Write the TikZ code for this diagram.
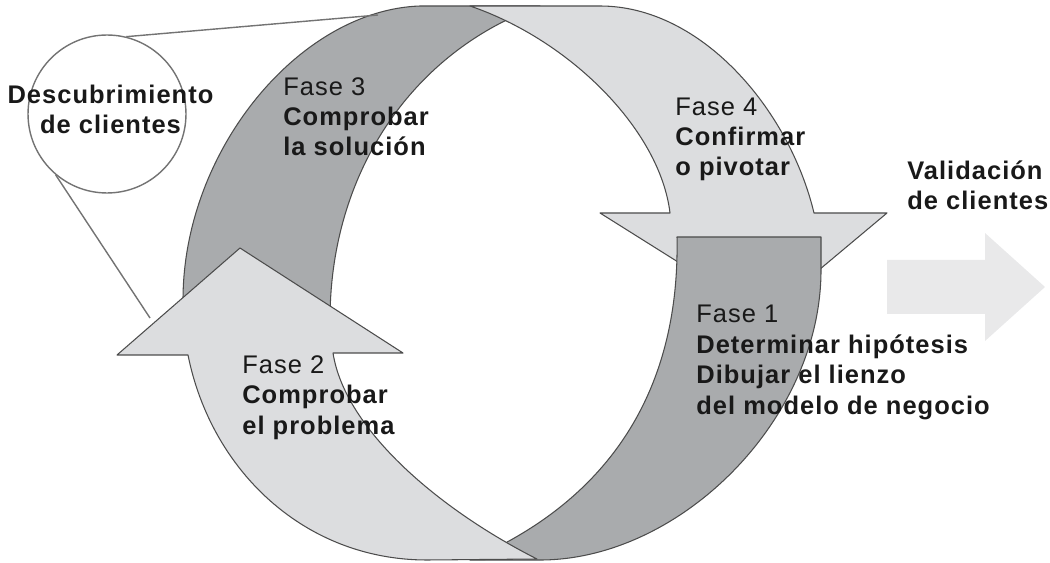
\documentclass[tikz,border=0pt]{standalone}
\usepackage{fontspec}
\setmainfont{Liberation Sans}[LetterSpace=4]
\definecolor{bandlight}{HTML}{DCDDDF}
\definecolor{banddark}{HTML}{A9ABAD}
\definecolor{validarrow}{HTML}{E9E9EA}
\begin{document}
\begin{tikzpicture}[x=0.02cm,y=-0.02cm,
        ring/.style={draw=black!70,line width=.6pt,line join=round},
        lightband/.style={ring,fill=bandlight},
        darkband/.style={ring,fill=banddark},
        txt/.style={anchor=base west,align=left,inner sep=0pt,font=\fontsize{14.5}{17.3}\selectfont,text=black!90},
        lens/.style={circle,draw=black!55,line width=.8pt,minimum size=3.16cm,inner sep=0pt}]
        \useasboundingbox (0,0) rectangle (1050,563);
        % Fase 3
        \draw[darkband] (183,335) -- (183,300) .. controls (183,150) and (300,10) .. (420,6) -- (540,6)
          .. controls (415,50) and (330,170) .. (330,320) -- (330,335) -- cycle;
        % Fase 4
        \draw[lightband] (470,6) -- (600,6) .. controls (701,6) and (789,109) .. (814,213)
          -- (887,213) -- (764,316) -- (600,213) -- (670,213)
          .. controls (660,130) and (570,40) .. (470,6) -- cycle;
        % Fase 1
        \draw[darkband] (677,237) -- (821,237) -- (821,270) .. controls (821,420) and (680,560) .. (540,560)
          -- (470,560) .. controls (610,500) and (680,390) .. (677,237) -- cycle;
        % Fase 2
        \draw[lightband] (240,248) -- (403,353) -- (333,353) .. controls (345,430) and (440,510) .. (537,559)
          -- (427,560) .. controls (304,560) and (211,470) .. (188,355) -- (117,355) -- cycle;
        % validacion
        \fill[validarrow] (887,260) -- (985,260) -- (985,233) -- (1045,287) -- (985,341) -- (985,314) -- (887,314) -- cycle;
        % lupa
        \node[lens] (lupa) at (107,114) {};
        \coordinate (ringtop) at (378,15);
        \coordinate (ringleft) at (150,318);
        \draw[black!55,line width=.8pt] (lupa.76) -- (ringtop);
        \draw[black!55,line width=.8pt] (lupa.230) -- (ringleft);
        \node[txt,anchor=base,align=center] (descub) at (111,134) {\textbf{Descubrimiento}\\\textbf{de clientes}};
        \node[txt] (fase3) at (283,156) {Fase 3\\\textbf{Comprobar}\\\textbf{la solución}};
        \node[txt] (fase4) at (675,176) {Fase 4\\\textbf{Confirmar}\\\textbf{o pivotar}};
        \node[txt] (fase1) at (696,414) {Fase 1\\\textbf{Determinar hipótesis}\\\textbf{Dibujar el lienzo}\\\textbf{del modelo de negocio}};
        \node[txt] (fase2) at (242,434) {Fase 2\\\textbf{Comprobar}\\\textbf{el problema}};
        \node[txt] (valid) at (907,210) {\textbf{Validación}\\\textbf{de clientes}};
      \end{tikzpicture}
\end{document}
